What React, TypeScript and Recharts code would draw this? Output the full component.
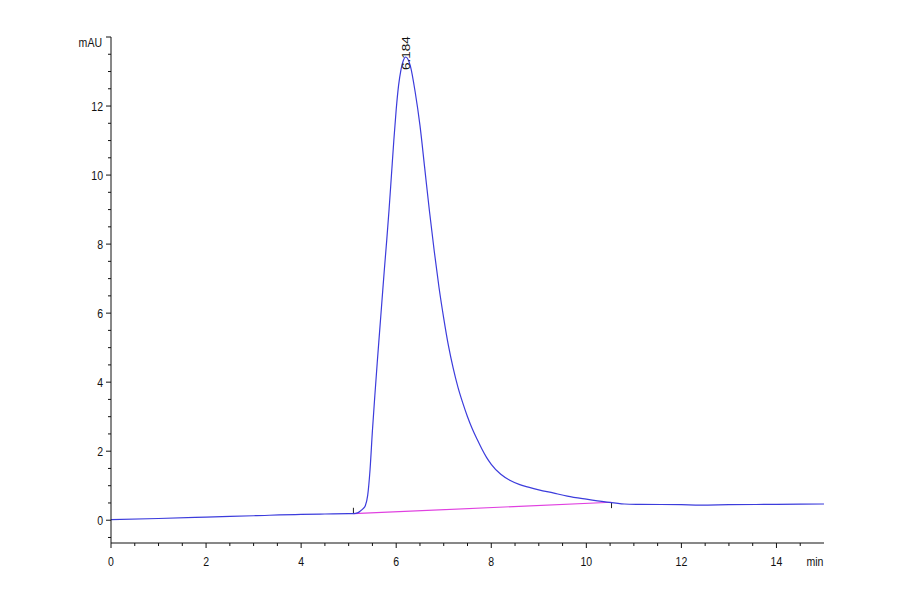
import React from 'react';
import { LineChart, Line, XAxis, YAxis, ReferenceLine, ReferenceDot } from 'recharts';

// Retention time (min) and absorbance (mAU)
const times = [
  0, 1, 2, 3, 4, 4.5, 5.0, 5.1, 5.2, 5.25, 5.3, 5.35, 5.4, 5.45, 5.5, 5.55, 5.6, 5.65,
  5.7, 5.75, 5.8, 5.85, 5.9, 5.95, 6.0, 6.05, 6.1, 6.15, 6.2, 6.25, 6.3, 6.4, 6.5, 6.6,
  6.7, 6.8, 6.9, 7.0, 7.1, 7.2, 7.3, 7.4, 7.5, 7.6, 7.7, 7.8, 7.9, 8.0, 8.2, 8.4, 8.6,
  8.8, 9.0, 9.3, 9.6, 10.0, 10.4, 10.8, 11.13, 12, 12.4, 13, 14, 15,
];
const absorbance = [
  0.02, 0.05, 0.09, 0.13, 0.17, 0.18, 0.19, 0.19, 0.22, 0.27, 0.33, 0.42, 0.72, 1.47, 2.6, 3.6, 4.55, 5.45,
  6.35, 7.25, 8.1, 9.0, 10.0, 11.0, 11.9, 12.6, 13.05, 13.32, 13.42, 13.35, 13.15, 12.4, 11.44, 10.2,
  8.95, 7.8, 6.75, 5.85, 5.05, 4.4, 3.85, 3.4, 3.0, 2.65, 2.35, 2.07, 1.82, 1.62, 1.33, 1.15, 1.03,
  0.95, 0.88, 0.79, 0.7, 0.61, 0.53, 0.47, 0.46, 0.45, 0.44, 0.45, 0.46, 0.47,
];

// Integration baseline (start / end)
const baselineT = [5.1, 10.53];
const baselineV = [0.19, 0.52];

// Peak annotation
const peakTimes = [6.184];
const peakHeights = [13.42];
const peakLabels = ['6.184'];

// Axis ticks
const xTicks = [0, 0.5, 1, 1.5, 2, 2.5, 3, 3.5, 4, 4.5, 5, 5.5, 6, 6.5, 7, 7.5, 8, 8.5, 9, 9.5, 10, 10.5, 11, 11.5, 12, 12.5, 13, 13.5, 14, 14.5];
const xLabelTicks = [0, 2, 4, 6, 8, 10, 12, 14];
const yTicks = [-0.5, 0, 0.5, 1, 1.5, 2, 2.5, 3, 3.5, 4, 4.5, 5, 5.5, 6, 6.5, 7, 7.5, 8, 8.5, 9, 9.5, 10, 10.5, 11, 11.5, 12, 12.5, 13, 13.5, 14];
const yLabelTicks = [0, 2, 4, 6, 8, 10, 12];
const yUnitLabel = 'mAU';
const xUnitLabel = 'min';

const data = times.map((t, i) => ({ t, v: absorbance[i] }));

const FONT = '"Liberation Sans", Arial, sans-serif';
const TEXT_COLOR = '#111';
const SX = 0.78;
const FS = 13.5;

const XTick = (props: any) => {
  const { x, y, payload } = props;
  const val = payload.value;
  const major = xLabelTicks.includes(val);
  return (
    <g>
      <line x1={x} x2={x} y1={y} y2={y + (major ? 5 : 3)} stroke="#111" strokeWidth={1} />
      {major && (
        <text
          transform={`translate(${x},${y + 23}) scale(${SX},1)`}
          x={0}
          y={0}
          textAnchor="middle"
          fontFamily={FONT}
          fontSize={FS}
          fill={TEXT_COLOR}
        >
          {val}
        </text>
      )}
    </g>
  );
};

const YTick = (props: any) => {
  const { x, y, payload } = props;
  const val = payload.value;
  const major = yLabelTicks.includes(val) || val === 14;
  return (
    <g>
      <line x1={x - (major ? 5 : 3)} x2={x} y1={y} y2={y} stroke="#111" strokeWidth={1} />
      {yLabelTicks.includes(val) && (
        <text
          transform={`translate(${x - 8},${y + 4.8}) scale(${SX},1)`}
          x={0}
          y={0}
          textAnchor="end"
          fontFamily={FONT}
          fontSize={FS}
          fill={TEXT_COLOR}
        >
          {val}
        </text>
      )}
      {val === 14 && (
        <text
          transform={`translate(${x - 9},${y + 10}) scale(${SX},1)`}
          x={0}
          y={0}
          textAnchor="end"
          fontFamily={FONT}
          fontSize={FS}
          fill={TEXT_COLOR}
        >
          {yUnitLabel}
        </text>
      )}
    </g>
  );
};

const PeakLabel = (props: any) => {
  const { cx, cy, label } = props;
  if (cx == null || cy == null) return null;
  return (
    <text
      transform={`translate(${cx + 5},${cy + 13}) scale(${SX},1) rotate(-90)`}
      x={0}
      y={0}
      textAnchor="start"
      fontFamily={FONT}
      fontSize={FS}
      fill={TEXT_COLOR}
    >
      {label}
    </text>
  );
};

export default function App() {
  return (
    <div style={{ position: 'absolute', left: 0, top: 0, width: 900, height: 594, background: '#fff' }}>
      <LineChart
        width={900}
        height={594}
        data={data}
        margin={{ top: 37, right: 76, bottom: 21, left: 51 }}
      >
        <XAxis
          dataKey="t"
          type="number"
          domain={[0, 15]}
          ticks={xTicks}
          interval={0}
          allowDataOverflow
          tickSize={0}
          tickMargin={0}
          tickLine={false}
          tick={<XTick />}
          axisLine={{ stroke: '#111', strokeWidth: 1 }}
          height={30}
          label={{
            content: (p: any) => {
              const vb = p.viewBox || {};
              return (
                <text
                  transform={`translate(${vb.x + vb.width - 9},${vb.y + 23}) scale(${SX},1)`}
                  x={0}
                  y={0}
                  textAnchor="middle"
                  fontFamily={FONT}
                  fontSize={FS}
                  fill={TEXT_COLOR}
                >
                  {xUnitLabel}
                </text>
              );
            },
          }}
        />
        <YAxis
          type="number"
          domain={[-0.66, 14]}
          ticks={yTicks}
          interval={0}
          allowDataOverflow
          tickSize={0}
          tickMargin={0}
          tickLine={false}
          tick={<YTick />}
          axisLine={{ stroke: '#111', strokeWidth: 1 }}
          width={60}
        />
        <ReferenceLine
          segment={[
            { x: baselineT[0], y: baselineV[0] },
            { x: baselineT[1], y: baselineV[1] },
          ]}
          stroke="#e040e0"
          strokeWidth={1.2}
          ifOverflow="visible"
        />
        <ReferenceLine
          segment={[
            { x: baselineT[0], y: baselineV[0] },
            { x: baselineT[0], y: baselineV[0] + 0.17 },
          ]}
          stroke="#222"
          strokeWidth={1}
          ifOverflow="visible"
        />
        <ReferenceLine
          segment={[
            { x: baselineT[1], y: baselineV[1] },
            { x: baselineT[1], y: baselineV[1] - 0.17 },
          ]}
          stroke="#222"
          strokeWidth={1}
          ifOverflow="visible"
        />
        <Line
          type="monotone"
          dataKey="v"
          stroke="#3c3cdc"
          strokeWidth={1.2}
          dot={false}
          isAnimationActive={false}
        />
        {peakTimes.map((pt, i) => (
          <ReferenceDot
            key={i}
            x={pt}
            y={peakHeights[i]}
            r={0}
            ifOverflow="visible"
            shape={(p: any) => <PeakLabel {...p} label={peakLabels[i]} />}
          />
        ))}
      </LineChart>
    </div>
  );
}
